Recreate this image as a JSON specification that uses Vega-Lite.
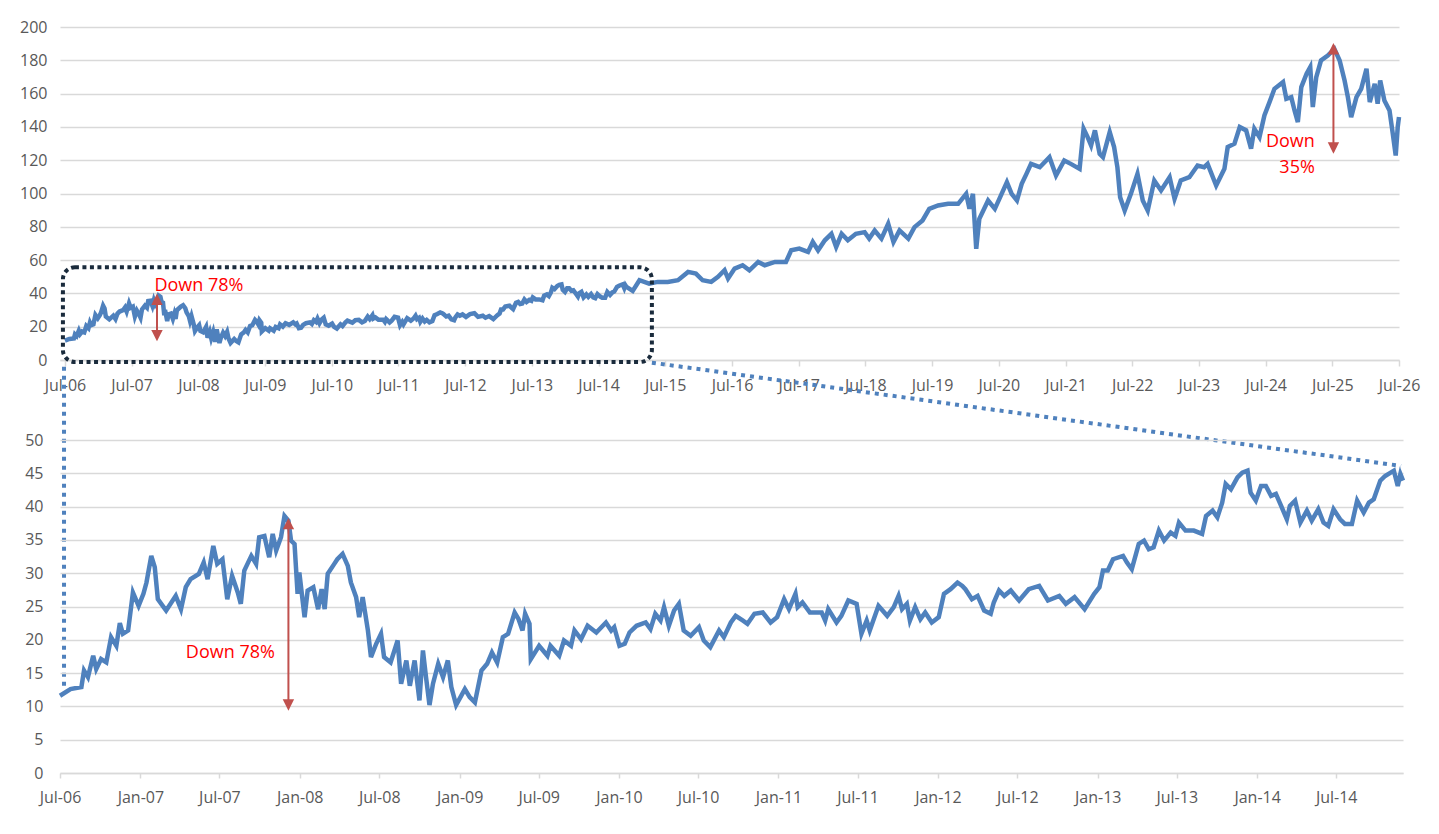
{
  "$schema": "https://vega.github.io/schema/vega-lite/v6.json",
  "padding": {"left": 19, "top": 19, "right": 5, "bottom": 5},
  "background": "white",
  "bounds": "flush",
  "spacing": 80,
  "config": {
    "font": "Open Sans",
    "view": {"stroke": null},
    "axis": {
      "labelFont": "Open Sans",
      "labelFontSize": 16,
      "labelColor": "#595959",
      "gridColor": "#d9d9d9",
      "gridWidth": 1.5,
      "domainColor": "#d9d9d9",
      "domainWidth": 1.5,
      "tickColor": "#d9d9d9",
      "tickWidth": 1.5,
      "labelFlush": false,
      "labelOverlap": false
    }
  },
  "datasets": {
    "series": [
      {"d": "2006-07-01", "v": 11.6}, {"d": "2006-07-25", "v": 12.6}, {"d": "2006-08-19", "v": 12.9}, {"d": "2006-08-25", "v": 15.4},
      {"d": "2006-09-03", "v": 14.4}, {"d": "2006-09-15", "v": 17.6}, {"d": "2006-09-22", "v": 15.6}, {"d": "2006-10-03", "v": 17.1},
      {"d": "2006-10-15", "v": 16.6}, {"d": "2006-10-26", "v": 20.4}, {"d": "2006-11-07", "v": 19.1}, {"d": "2006-11-15", "v": 22.5},
      {"d": "2006-11-22", "v": 20.9}, {"d": "2006-12-04", "v": 21.4}, {"d": "2006-12-15", "v": 27.1}, {"d": "2006-12-28", "v": 25.1},
      {"d": "2007-01-08", "v": 26.9}, {"d": "2007-01-15", "v": 28.6}, {"d": "2007-01-26", "v": 32.6}, {"d": "2007-02-03", "v": 30.9},
      {"d": "2007-02-10", "v": 26.1}, {"d": "2007-03-01", "v": 24.4}, {"d": "2007-03-23", "v": 26.6}, {"d": "2007-04-04", "v": 24.6},
      {"d": "2007-04-15", "v": 27.9}, {"d": "2007-04-26", "v": 29.1}, {"d": "2007-05-15", "v": 29.9}, {"d": "2007-05-26", "v": 31.6},
      {"d": "2007-06-04", "v": 29.1}, {"d": "2007-06-17", "v": 34.1}, {"d": "2007-06-26", "v": 31.4}, {"d": "2007-07-08", "v": 32.1},
      {"d": "2007-07-19", "v": 26.1}, {"d": "2007-07-30", "v": 29.6}, {"d": "2007-08-12", "v": 27.1}, {"d": "2007-08-19", "v": 25.4},
      {"d": "2007-08-27", "v": 30.4}, {"d": "2007-09-12", "v": 32.6}, {"d": "2007-09-23", "v": 31.4}, {"d": "2007-09-30", "v": 35.4},
      {"d": "2007-10-12", "v": 35.6}, {"d": "2007-10-23", "v": 32.4}, {"d": "2007-10-31", "v": 35.9}, {"d": "2007-11-08", "v": 33.4},
      {"d": "2007-11-19", "v": 35.4}, {"d": "2007-11-27", "v": 38.6}, {"d": "2007-12-06", "v": 37.9}, {"d": "2007-12-12", "v": 34.9},
      {"d": "2007-12-20", "v": 34.4}, {"d": "2007-12-27", "v": 26.9}, {"d": "2007-12-31", "v": 30.1}, {"d": "2008-01-12", "v": 23.4},
      {"d": "2008-01-19", "v": 27.4}, {"d": "2008-02-01", "v": 27.9}, {"d": "2008-02-12", "v": 24.6}, {"d": "2008-02-20", "v": 27.6},
      {"d": "2008-02-27", "v": 24.6}, {"d": "2008-03-05", "v": 29.9}, {"d": "2008-03-20", "v": 31.4}, {"d": "2008-03-27", "v": 32.1},
      {"d": "2008-04-08", "v": 32.9}, {"d": "2008-04-20", "v": 31.1}, {"d": "2008-04-27", "v": 28.6}, {"d": "2008-05-09", "v": 26.4},
      {"d": "2008-05-16", "v": 23.4}, {"d": "2008-05-24", "v": 26.4}, {"d": "2008-06-05", "v": 21.4}, {"d": "2008-06-12", "v": 17.4},
      {"d": "2008-06-24", "v": 19.4}, {"d": "2008-07-05", "v": 20.9}, {"d": "2008-07-12", "v": 17.4}, {"d": "2008-07-27", "v": 16.6},
      {"d": "2008-08-12", "v": 19.9}, {"d": "2008-08-20", "v": 13.4}, {"d": "2008-09-01", "v": 16.9}, {"d": "2008-09-09", "v": 13.1},
      {"d": "2008-09-20", "v": 16.9}, {"d": "2008-10-01", "v": 10.9}, {"d": "2008-10-09", "v": 18.4}, {"d": "2008-10-16", "v": 14.4},
      {"d": "2008-10-24", "v": 10.2}, {"d": "2008-11-01", "v": 13.4}, {"d": "2008-11-13", "v": 16.4}, {"d": "2008-11-24", "v": 14.4},
      {"d": "2008-12-05", "v": 16.9}, {"d": "2008-12-13", "v": 12.9}, {"d": "2008-12-24", "v": 10.2}, {"d": "2009-01-13", "v": 12.6},
      {"d": "2009-01-24", "v": 11.4}, {"d": "2009-02-05", "v": 10.6}, {"d": "2009-02-20", "v": 15.4}, {"d": "2009-03-05", "v": 16.4},
      {"d": "2009-03-16", "v": 18.1}, {"d": "2009-03-28", "v": 16.6}, {"d": "2009-04-10", "v": 20.4}, {"d": "2009-04-22", "v": 20.9},
      {"d": "2009-05-07", "v": 24.1}, {"d": "2009-05-16", "v": 23.1}, {"d": "2009-05-25", "v": 21.4}, {"d": "2009-05-31", "v": 23.9},
      {"d": "2009-06-10", "v": 22.4}, {"d": "2009-06-13", "v": 17.1}, {"d": "2009-07-02", "v": 19.1}, {"d": "2009-07-21", "v": 17.6},
      {"d": "2009-07-28", "v": 19.1}, {"d": "2009-08-17", "v": 17.6}, {"d": "2009-08-28", "v": 19.9}, {"d": "2009-09-13", "v": 19.1},
      {"d": "2009-09-21", "v": 21.4}, {"d": "2009-10-06", "v": 20.1}, {"d": "2009-10-21", "v": 22.1}, {"d": "2009-11-10", "v": 21.1},
      {"d": "2009-12-02", "v": 22.6}, {"d": "2009-12-14", "v": 21.4}, {"d": "2009-12-21", "v": 21.9}, {"d": "2010-01-02", "v": 19.1},
      {"d": "2010-01-14", "v": 19.4}, {"d": "2010-01-25", "v": 21.1}, {"d": "2010-02-10", "v": 22.1}, {"d": "2010-03-03", "v": 22.6},
      {"d": "2010-03-14", "v": 21.6}, {"d": "2010-03-25", "v": 23.9}, {"d": "2010-04-06", "v": 22.9}, {"d": "2010-04-14", "v": 24.9},
      {"d": "2010-04-25", "v": 22.1}, {"d": "2010-05-07", "v": 24.4}, {"d": "2010-05-18", "v": 25.4}, {"d": "2010-05-29", "v": 21.4},
      {"d": "2010-06-14", "v": 20.6}, {"d": "2010-07-03", "v": 21.9}, {"d": "2010-07-14", "v": 19.9}, {"d": "2010-07-29", "v": 18.9},
      {"d": "2010-08-18", "v": 21.4}, {"d": "2010-08-29", "v": 20.4}, {"d": "2010-09-14", "v": 22.6}, {"d": "2010-09-25", "v": 23.6},
      {"d": "2010-10-11", "v": 22.9}, {"d": "2010-10-22", "v": 22.4}, {"d": "2010-11-07", "v": 23.9}, {"d": "2010-11-26", "v": 24.1},
      {"d": "2010-12-14", "v": 22.6}, {"d": "2010-12-29", "v": 23.4}, {"d": "2011-01-14", "v": 26.1}, {"d": "2011-01-25", "v": 24.6},
      {"d": "2011-02-09", "v": 26.9}, {"d": "2011-02-14", "v": 24.9}, {"d": "2011-02-25", "v": 25.6}, {"d": "2011-03-14", "v": 24.1},
      {"d": "2011-04-10", "v": 24.1}, {"d": "2011-04-18", "v": 22.9}, {"d": "2011-04-25", "v": 24.6}, {"d": "2011-05-14", "v": 22.6},
      {"d": "2011-05-25", "v": 23.6}, {"d": "2011-06-10", "v": 25.9}, {"d": "2011-06-29", "v": 25.4}, {"d": "2011-07-10", "v": 20.9},
      {"d": "2011-07-22", "v": 22.9}, {"d": "2011-07-29", "v": 21.4}, {"d": "2011-08-18", "v": 25.1}, {"d": "2011-09-07", "v": 23.6},
      {"d": "2011-09-22", "v": 24.9}, {"d": "2011-10-03", "v": 26.6}, {"d": "2011-10-11", "v": 24.6}, {"d": "2011-10-22", "v": 25.4},
      {"d": "2011-10-29", "v": 22.9}, {"d": "2011-11-10", "v": 24.9}, {"d": "2011-11-22", "v": 23.1}, {"d": "2011-12-03", "v": 24.1},
      {"d": "2011-12-18", "v": 22.6}, {"d": "2012-01-03", "v": 23.4}, {"d": "2012-01-15", "v": 26.9}, {"d": "2012-01-30", "v": 27.6},
      {"d": "2012-02-15", "v": 28.6}, {"d": "2012-02-26", "v": 28.1}, {"d": "2012-03-04", "v": 27.6}, {"d": "2012-03-19", "v": 26.1},
      {"d": "2012-04-01", "v": 26.6}, {"d": "2012-04-16", "v": 24.4}, {"d": "2012-05-01", "v": 23.9}, {"d": "2012-05-08", "v": 25.6},
      {"d": "2012-05-20", "v": 27.4}, {"d": "2012-06-01", "v": 26.6}, {"d": "2012-06-16", "v": 27.4}, {"d": "2012-07-05", "v": 25.9},
      {"d": "2012-07-27", "v": 27.6}, {"d": "2012-08-20", "v": 28.1}, {"d": "2012-09-09", "v": 25.9}, {"d": "2012-10-05", "v": 26.6},
      {"d": "2012-10-20", "v": 25.4}, {"d": "2012-11-09", "v": 26.4}, {"d": "2012-12-02", "v": 24.6}, {"d": "2012-12-24", "v": 26.9},
      {"d": "2013-01-05", "v": 27.9}, {"d": "2013-01-13", "v": 30.4}, {"d": "2013-01-24", "v": 30.4}, {"d": "2013-02-05", "v": 32.1},
      {"d": "2013-02-28", "v": 32.6}, {"d": "2013-03-09", "v": 31.6}, {"d": "2013-03-20", "v": 30.6}, {"d": "2013-04-05", "v": 34.4},
      {"d": "2013-04-17", "v": 34.9}, {"d": "2013-04-28", "v": 33.6}, {"d": "2013-05-09", "v": 33.9}, {"d": "2013-05-21", "v": 36.4},
      {"d": "2013-06-02", "v": 34.9}, {"d": "2013-06-17", "v": 36.1}, {"d": "2013-06-28", "v": 35.6}, {"d": "2013-07-06", "v": 37.6},
      {"d": "2013-07-21", "v": 36.4}, {"d": "2013-08-09", "v": 36.4}, {"d": "2013-08-28", "v": 35.9}, {"d": "2013-09-06", "v": 38.6},
      {"d": "2013-09-21", "v": 39.4}, {"d": "2013-10-02", "v": 38.4}, {"d": "2013-10-13", "v": 40.6}, {"d": "2013-10-21", "v": 43.4},
      {"d": "2013-11-02", "v": 42.6}, {"d": "2013-11-17", "v": 44.4}, {"d": "2013-11-28", "v": 45.1}, {"d": "2013-12-10", "v": 45.4},
      {"d": "2013-12-17", "v": 42.1}, {"d": "2013-12-29", "v": 40.9}, {"d": "2014-01-10", "v": 43.1}, {"d": "2014-01-21", "v": 43.1},
      {"d": "2014-02-02", "v": 41.6}, {"d": "2014-02-13", "v": 41.9}, {"d": "2014-02-25", "v": 40.1}, {"d": "2014-03-10", "v": 38.1},
      {"d": "2014-03-17", "v": 40.1}, {"d": "2014-03-29", "v": 40.9}, {"d": "2014-04-10", "v": 37.6}, {"d": "2014-04-25", "v": 39.4},
      {"d": "2014-05-06", "v": 37.9}, {"d": "2014-05-21", "v": 39.6}, {"d": "2014-06-02", "v": 37.6}, {"d": "2014-06-13", "v": 37.1},
      {"d": "2014-06-25", "v": 39.6}, {"d": "2014-07-10", "v": 38.1}, {"d": "2014-07-21", "v": 37.4}, {"d": "2014-08-06", "v": 37.4},
      {"d": "2014-08-18", "v": 40.9}, {"d": "2014-09-02", "v": 39.1}, {"d": "2014-09-14", "v": 40.6}, {"d": "2014-09-25", "v": 41.1},
      {"d": "2014-10-10", "v": 43.9}, {"d": "2014-10-21", "v": 44.6}, {"d": "2014-11-10", "v": 45.4}, {"d": "2014-11-19", "v": 43.1},
      {"d": "2014-11-25", "v": 44.9}, {"d": "2014-12-01", "v": 43.9},
      {"d": "2015-01-04", "v": 41.5}, {"d": "2015-02-10", "v": 47.9}, {"d": "2015-04-04", "v": 45.9}, {"d": "2015-05-21", "v": 46.9},
      {"d": "2015-07-15", "v": 46.9}, {"d": "2015-09-09", "v": 47.9}, {"d": "2015-11-03", "v": 52.9}, {"d": "2015-12-16", "v": 51.9},
      {"d": "2016-01-22", "v": 47.9}, {"d": "2016-03-09", "v": 46.9}, {"d": "2016-04-15", "v": 49.9}, {"d": "2016-05-21", "v": 53.9},
      {"d": "2016-06-09", "v": 48.9}, {"d": "2016-07-15", "v": 54.9}, {"d": "2016-08-28", "v": 56.9}, {"d": "2016-10-04", "v": 53.9},
      {"d": "2016-11-21", "v": 58.9}, {"d": "2016-12-27", "v": 56.9}, {"d": "2017-02-21", "v": 58.9}, {"d": "2017-04-22", "v": 58.9},
      {"d": "2017-05-21", "v": 65.9}, {"d": "2017-07-04", "v": 66.9}, {"d": "2017-08-21", "v": 64.9}, {"d": "2017-09-16", "v": 70.9},
      {"d": "2017-10-15", "v": 65.9}, {"d": "2017-11-21", "v": 71.9}, {"d": "2017-12-27", "v": 75.8}, {"d": "2018-01-22", "v": 67.9},
      {"d": "2018-02-21", "v": 75.8}, {"d": "2018-03-27", "v": 71.9}, {"d": "2018-05-10", "v": 75.8}, {"d": "2018-06-27", "v": 76.8},
      {"d": "2018-07-22", "v": 72.9}, {"d": "2018-08-21", "v": 77.8}, {"d": "2018-09-27", "v": 72.9}, {"d": "2018-11-03", "v": 81.8},
      {"d": "2018-12-02", "v": 70.9}, {"d": "2019-01-04", "v": 77.8}, {"d": "2019-02-21", "v": 72.9}, {"d": "2019-03-27", "v": 79.8},
      {"d": "2019-05-10", "v": 83.8}, {"d": "2019-06-16", "v": 90.8}, {"d": "2019-08-03", "v": 92.8}, {"d": "2019-09-27", "v": 93.8},
      {"d": "2019-11-21", "v": 93.8}, {"d": "2020-01-04", "v": 99.8}, {"d": "2020-01-22", "v": 90.8}, {"d": "2020-02-10", "v": 99.8},
      {"d": "2020-02-28", "v": 66.8}, {"d": "2020-03-16", "v": 84.8}, {"d": "2020-05-03", "v": 95.8}, {"d": "2020-06-09", "v": 90.8},
      {"d": "2020-07-08", "v": 97.8}, {"d": "2020-08-14", "v": 106.8}, {"d": "2020-09-09", "v": 99.8}, {"d": "2020-10-08", "v": 95.8},
      {"d": "2020-11-03", "v": 105.8}, {"d": "2020-11-29", "v": 111.8}, {"d": "2020-12-24", "v": 117.8}, {"d": "2021-02-10", "v": 115.8},
      {"d": "2021-04-04", "v": 121.8}, {"d": "2021-05-10", "v": 110.8}, {"d": "2021-06-24", "v": 119.8}, {"d": "2021-07-30", "v": 117.8},
      {"d": "2021-09-16", "v": 114.8}, {"d": "2021-10-08", "v": 138.9}, {"d": "2021-10-30", "v": 133.9}, {"d": "2021-11-18", "v": 128.9},
      {"d": "2021-12-09", "v": 137.9}, {"d": "2022-01-04", "v": 123.8}, {"d": "2022-01-22", "v": 121.8}, {"d": "2022-02-28", "v": 136.9},
      {"d": "2022-03-24", "v": 127.9}, {"d": "2022-04-11", "v": 115.8}, {"d": "2022-04-26", "v": 97.8}, {"d": "2022-05-21", "v": 89.8},
      {"d": "2022-06-24", "v": 99.8}, {"d": "2022-07-30", "v": 111.8}, {"d": "2022-08-28", "v": 95.8}, {"d": "2022-09-24", "v": 89.8},
      {"d": "2022-10-30", "v": 107.8}, {"d": "2022-12-06", "v": 101.8}, {"d": "2023-01-22", "v": 109.8}, {"d": "2023-02-18", "v": 96.8},
      {"d": "2023-03-24", "v": 107.8}, {"d": "2023-05-10", "v": 109.8}, {"d": "2023-06-24", "v": 116.8}, {"d": "2023-07-30", "v": 115.8},
      {"d": "2023-08-18", "v": 117.8}, {"d": "2023-10-04", "v": 104.8}, {"d": "2023-11-18", "v": 114.8}, {"d": "2023-12-06", "v": 127.9},
      {"d": "2024-01-12", "v": 129.9}, {"d": "2024-02-10", "v": 139.9}, {"d": "2024-03-16", "v": 137.9}, {"d": "2024-04-12", "v": 126.9},
      {"d": "2024-04-30", "v": 138.9}, {"d": "2024-05-28", "v": 133.9}, {"d": "2024-06-24", "v": 146.9}, {"d": "2024-07-22", "v": 154.9},
      {"d": "2024-08-18", "v": 162.9}, {"d": "2024-10-04", "v": 166.9}, {"d": "2024-10-22", "v": 156.9}, {"d": "2024-11-18", "v": 157.9},
      {"d": "2024-12-06", "v": 149.9}, {"d": "2024-12-24", "v": 142.9}, {"d": "2025-01-12", "v": 163.9}, {"d": "2025-02-10", "v": 171.9},
      {"d": "2025-03-02", "v": 175.9}, {"d": "2025-03-16", "v": 151.9}, {"d": "2025-04-04", "v": 169.9}, {"d": "2025-04-30", "v": 179.9},
      {"d": "2025-06-06", "v": 182.9}, {"d": "2025-07-12", "v": 186.9}, {"d": "2025-08-10", "v": 179.9}, {"d": "2025-09-06", "v": 167.9},
      {"d": "2025-09-24", "v": 157.9}, {"d": "2025-10-12", "v": 145.9}, {"d": "2025-11-10", "v": 157.9}, {"d": "2025-12-06", "v": 162.9},
      {"d": "2026-01-04", "v": 174.9}, {"d": "2026-01-22", "v": 154.9}, {"d": "2026-02-18", "v": 165.9}, {"d": "2026-03-06", "v": 153.9},
      {"d": "2026-03-20", "v": 167.9}, {"d": "2026-04-12", "v": 155.9}, {"d": "2026-05-10", "v": 149.9}, {"d": "2026-05-28", "v": 135.9},
      {"d": "2026-06-13", "v": 122.8}, {"d": "2026-06-24", "v": 139.9}, {"d": "2026-07-01", "v": 145.9}
    ]
  },
  "vconcat": [
    {
      "width": 1339,
      "height": 333,
      "encoding": {
        "x": {
          "field": "d", "type": "temporal", "title": null,
          "scale": {"type": "utc", "domain": [{"year": 2006, "month": 6, "date": 4, "utc": true}, {"year": 2026, "month": 7, "date": 1, "utc": true}]},
          "axis": {
            "format": "%b-%y", "grid": false, "tickSize": 6, "labelPadding": 11, "tickCount": 40,
            "values": [
              {"year": 2006, "month": 7, "date": 1, "utc": true}, {"year": 2007, "month": 7, "date": 1, "utc": true},
              {"year": 2008, "month": 7, "date": 1, "utc": true}, {"year": 2009, "month": 7, "date": 1, "utc": true},
              {"year": 2010, "month": 7, "date": 1, "utc": true}, {"year": 2011, "month": 7, "date": 1, "utc": true},
              {"year": 2012, "month": 7, "date": 1, "utc": true}, {"year": 2013, "month": 7, "date": 1, "utc": true},
              {"year": 2014, "month": 7, "date": 1, "utc": true}, {"year": 2015, "month": 7, "date": 1, "utc": true},
              {"year": 2016, "month": 7, "date": 1, "utc": true}, {"year": 2017, "month": 7, "date": 1, "utc": true},
              {"year": 2018, "month": 7, "date": 1, "utc": true}, {"year": 2019, "month": 7, "date": 1, "utc": true},
              {"year": 2020, "month": 7, "date": 1, "utc": true}, {"year": 2021, "month": 7, "date": 1, "utc": true},
              {"year": 2022, "month": 7, "date": 1, "utc": true}, {"year": 2023, "month": 7, "date": 1, "utc": true},
              {"year": 2024, "month": 7, "date": 1, "utc": true}, {"year": 2025, "month": 7, "date": 1, "utc": true},
              {"year": 2026, "month": 7, "date": 1, "utc": true}
            ]
          }
        },
        "y": {
          "field": "v", "type": "quantitative", "title": null,
          "scale": {"domain": [0, 200]},
          "axis": {"values": [0, 20, 40, 60, 80, 100, 120, 140, 160, 180, 200], "tickCount": 20, "domain": false, "ticks": false, "labelPadding": 13}
        }
      },
      "layer": [
        {
          "data": {"name": "series"},
          "mark": {"type": "line", "stroke": "#4f81bd", "strokeWidth": 4.5}
        },
        {
          "data": {"values": [{"d": "2006-06-20", "d2": "2015-04-19", "v": -1.2, "v2": 55.7}]},
          "mark": {"type": "rect", "filled": false, "color": "#1a2b3c", "strokeWidth": 4, "strokeDash": [4, 3.5], "cornerRadius": 12},
          "encoding": {
            "x2": {"field": "d2"},
            "y2": {"field": "v2"}
          }
        },
        {
          "data": {"values": [
            {"d": "2006-06-26", "d2": "2006-06-26", "v": -4, "v2": -196.4},
            {"d": "2015-04-19", "d2": "2026-07-12", "v": -1.6, "v2": -63.6}
          ]},
          "mark": {"type": "rule", "color": "#4f81bd", "strokeWidth": 4, "strokeDash": [4, 5]},
          "encoding": {
            "x2": {"field": "d2"},
            "y2": {"field": "v2"}
          }
        },
        {
          "data": {"values": [
            {"d": "2007-11-17", "v": 38.4, "v2": 12.7},
            {"d": "2025-07-07", "v": 188.9, "v2": 125.4}
          ]},
          "mark": {"type": "rule", "color": "#c0504d", "strokeWidth": 2},
          "encoding": {
            "y2": {"field": "v2"}
          }
        },
        {
          "data": {"values": [
            {"d": "2007-11-17", "v": 39.9, "dir": "up"},
            {"d": "2007-11-17", "v": 11.2, "dir": "down"},
            {"d": "2025-07-07", "v": 190.4, "dir": "up"},
            {"d": "2025-07-07", "v": 123.9, "dir": "down"}
          ]},
          "mark": {"type": "point", "filled": true, "color": "#c0504d", "opacity": 1, "size": 130},
          "encoding": {
            "shape": {"field": "dir", "type": "nominal", "legend": null,
              "scale": {"domain": ["up", "down"], "range": ["M0,0L-1,2L1,2Z", "M0,0L-1,-2L1,-2Z"]}}
          }
        },
        {
          "data": {"values": [
            {"d": "2008-07-04", "v": 41.7, "t": "Down 78%"},
            {"d": "2024-11-13", "v": 127.7, "t": "Down"},
            {"d": "2024-12-20", "v": 112.6, "t": "35%"}
          ]},
          "mark": {"type": "text", "color": "#ff0000", "font": "Open Sans", "fontSize": 18, "align": "center", "baseline": "alphabetic"},
          "encoding": {
            "text": {"field": "t"}
          }
        }
      ]
    },
    {
      "width": 1343,
      "height": 333,
      "encoding": {
        "x": {
          "field": "d", "type": "temporal", "title": null,
          "scale": {"type": "utc", "domain": [{"year": 2006, "month": 7, "date": 1, "utc": true}, {"year": 2014, "month": 12, "date": 1, "utc": true}]},
          "axis": {
            "format": "%b-%y", "grid": false, "tickSize": 5, "labelPadding": 11.5, "tickCount": 40,
            "values": [
              {"year": 2006, "month": 7, "date": 1, "utc": true}, {"year": 2007, "month": 1, "date": 1, "utc": true},
              {"year": 2007, "month": 7, "date": 1, "utc": true}, {"year": 2008, "month": 1, "date": 1, "utc": true},
              {"year": 2008, "month": 7, "date": 1, "utc": true}, {"year": 2009, "month": 1, "date": 1, "utc": true},
              {"year": 2009, "month": 7, "date": 1, "utc": true}, {"year": 2010, "month": 1, "date": 1, "utc": true},
              {"year": 2010, "month": 7, "date": 1, "utc": true}, {"year": 2011, "month": 1, "date": 1, "utc": true},
              {"year": 2011, "month": 7, "date": 1, "utc": true}, {"year": 2012, "month": 1, "date": 1, "utc": true},
              {"year": 2012, "month": 7, "date": 1, "utc": true}, {"year": 2013, "month": 1, "date": 1, "utc": true},
              {"year": 2013, "month": 7, "date": 1, "utc": true}, {"year": 2014, "month": 1, "date": 1, "utc": true},
              {"year": 2014, "month": 7, "date": 1, "utc": true}
            ]
          }
        },
        "y": {
          "field": "v", "type": "quantitative", "title": null,
          "scale": {"domain": [0, 50]},
          "axis": {"values": [0, 5, 10, 15, 20, 25, 30, 35, 40, 45, 50], "tickCount": 20, "domain": false, "ticks": false, "labelPadding": 17}
        }
      },
      "layer": [
        {
          "data": {"name": "series"},
          "transform": [{"filter": "utcyear(toDate(datum.d)) < 2015"}],
          "mark": {"type": "line", "stroke": "#4f81bd", "strokeWidth": 4.5}
        },
        {
          "data": {"values": [{"d": "2007-12-06", "v": 37.8, "v2": 9.85}]},
          "mark": {"type": "rule", "color": "#c0504d", "strokeWidth": 2},
          "encoding": {
            "y2": {"field": "v2"}
          }
        },
        {
          "data": {"values": [
            {"d": "2007-12-06", "v": 38.3, "dir": "up"},
            {"d": "2007-12-06", "v": 9.35, "dir": "down"}
          ]},
          "mark": {"type": "point", "filled": true, "color": "#c0504d", "opacity": 1, "size": 130},
          "encoding": {
            "shape": {"field": "dir", "type": "nominal", "legend": null,
              "scale": {"domain": ["up", "down"], "range": ["M0,0L-1,2L1,2Z", "M0,0L-1,-2L1,-2Z"]}}
          }
        },
        {
          "data": {"values": [{"d": "2007-07-26", "v": 17.2, "t": "Down 78%"}]},
          "mark": {"type": "text", "color": "#ff0000", "font": "Open Sans", "fontSize": 18, "align": "center", "baseline": "alphabetic"},
          "encoding": {
            "text": {"field": "t"}
          }
        }
      ]
    }
  ]
}
